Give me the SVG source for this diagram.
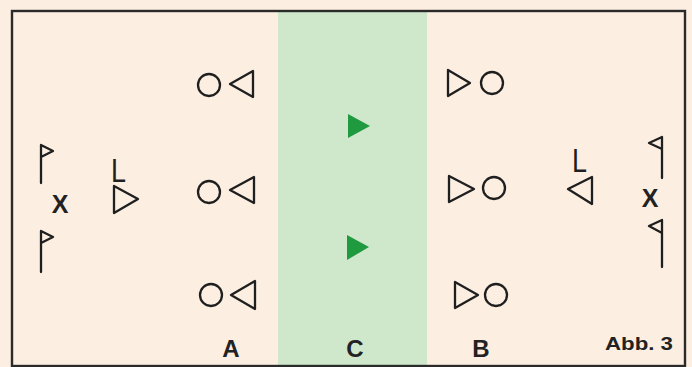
<svg xmlns="http://www.w3.org/2000/svg" width="692" height="367" viewBox="0 0 692 367">
  <defs>
    <style>
      .sym { fill: none; stroke: #1f1f1f; stroke-width: 2.3; stroke-linejoin: round; stroke-linecap: round; }
      .arrow { fill: #1f9a3e; stroke: none; }
      .lbl { font-family: "Liberation Sans", Arial, sans-serif; font-weight: bold; fill: #222; text-anchor: middle; }
      .ltr { font-family: "Liberation Sans", Arial, sans-serif; fill: #1f1f1f; }
    </style>
  </defs>

  <rect x="0" y="0" width="692" height="367" fill="#fcefe2"/>
  <rect id="zone-c" x="278" y="12" width="149" height="354" fill="#cfe7cb"/>
  <rect id="frame" x="12" y="11" width="673" height="355" fill="none" stroke="#2a2a2a" stroke-width="2.4"/>

  <g id="group-a-top">
    <circle class="sym" cx="209" cy="85" r="11"/>
    <polygon class="sym" points="230,84 253,71 253,97"/>
  </g>
  <g id="group-a-mid">
    <circle class="sym" cx="209" cy="192" r="11"/>
    <polygon class="sym" points="230,190 254,177 254,203"/>
  </g>
  <g id="group-a-bottom">
    <circle class="sym" cx="211" cy="295" r="11"/>
    <polygon class="sym" points="231,295 255,281 255,309"/>
  </g>

  <g id="group-b-top">
    <polygon class="sym" points="448,70 470,83 448,96"/>
    <circle class="sym" cx="492" cy="83" r="11"/>
  </g>
  <g id="group-b-mid">
    <polygon class="sym" points="449,176 474,189 449,202"/>
    <circle class="sym" cx="494" cy="188" r="11"/>
  </g>
  <g id="group-b-bottom">
    <polygon class="sym" points="455,282 478,295 455,308"/>
    <circle class="sym" cx="496" cy="295" r="11"/>
  </g>

  <g id="left-goal">
    <path class="sym" d="M41,183 V145 L53,151 L41,157"/>
    <path class="sym" d="M41,272 V231 L53,237 L41,243"/>
    <text class="lbl" x="60" y="213" font-size="25">X</text>
  </g>
  <g id="left-runner">
    <text class="ltr" x="111" y="182" font-size="33" textLength="15" lengthAdjust="spacingAndGlyphs">L</text>
    <polygon class="sym" points="114,186 138,199 114,213"/>
  </g>

  <g id="right-goal">
    <path class="sym" d="M662,178 V137 L649,143 L662,149"/>
    <path class="sym" d="M662,267 V220 L649,226 L662,233"/>
    <text class="lbl" x="650" y="207" font-size="25">X</text>
  </g>
  <g id="right-runner">
    <text class="ltr" x="572" y="172" font-size="33" textLength="15" lengthAdjust="spacingAndGlyphs">L</text>
    <polygon class="sym" points="568,189 592,177 592,204"/>
  </g>

  <g id="connectors">
    <polygon class="arrow" points="348,114 370,126 348,138"/>
    <polygon class="arrow" points="347,235 369,247 347,260"/>
  </g>

  <g id="labels">
    <text class="lbl" x="231" y="357" font-size="24">A</text>
    <text class="lbl" x="355" y="357" font-size="24">C</text>
    <text class="lbl" x="481" y="357" font-size="24">B</text>
    <text class="lbl" x="639" y="350" font-size="19" textLength="68" lengthAdjust="spacingAndGlyphs">Abb. 3</text>
  </g>
</svg>
